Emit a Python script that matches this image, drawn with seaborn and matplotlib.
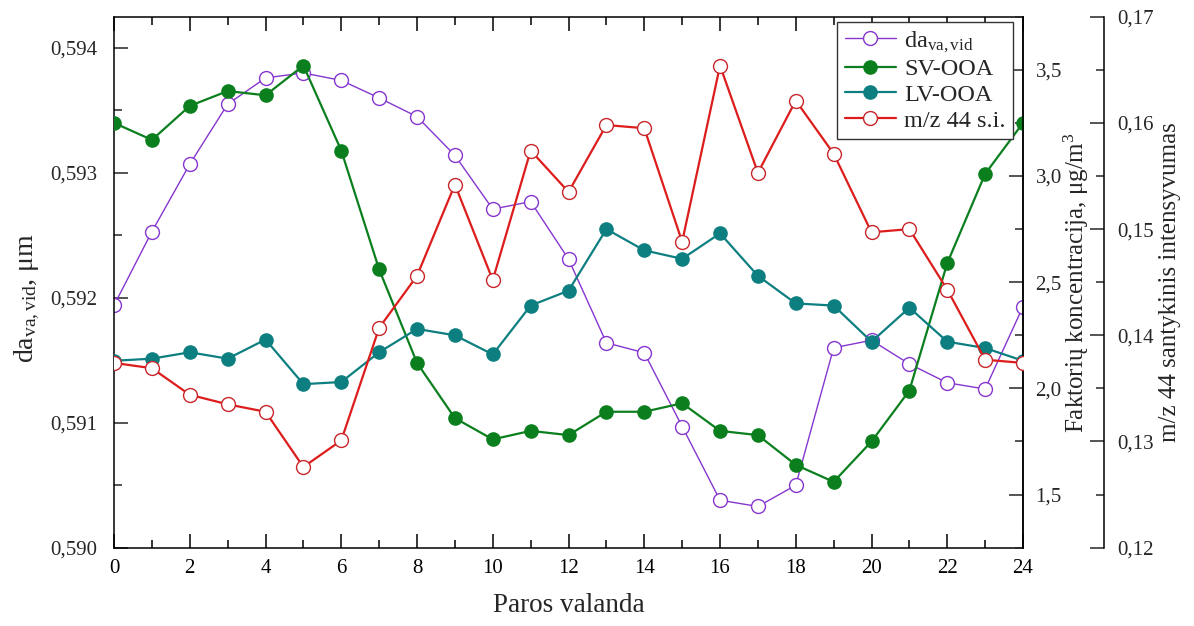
import matplotlib
matplotlib.use("Agg")
import matplotlib.pyplot as plt
from matplotlib.ticker import MultipleLocator, FuncFormatter
import pandas as pd
import seaborn as sns

# Hour of day
hours = list(range(25))

# Mean vacuum aerodynamic diameter, µm (left axis)
da_va_vid = [0.59194, 0.59253, 0.59307, 0.59355, 0.59376, 0.59380, 0.59374,
             0.59360, 0.59345, 0.59314, 0.59271, 0.59277, 0.59231, 0.59164,
             0.59156, 0.59097, 0.59038, 0.59033, 0.59050, 0.59160, 0.59166,
             0.59147, 0.59132, 0.59127, 0.59193]

# PMF factor concentrations, µg/m3 (first right axis)
sv_ooa = [3.25, 3.17, 3.33, 3.40, 3.38, 3.52, 3.12, 2.56, 2.12, 1.86, 1.76,
          1.80, 1.78, 1.89, 1.89, 1.93, 1.80, 1.78, 1.64, 1.56, 1.75, 1.99,
          2.59, 3.01, 3.25]
lv_ooa = [2.13, 2.14, 2.17, 2.14, 2.23, 2.02, 2.03, 2.17, 2.28, 2.25, 2.16,
          2.39, 2.46, 2.75, 2.65, 2.61, 2.73, 2.53, 2.40, 2.39, 2.22, 2.38,
          2.22, 2.19, 2.13]

# m/z 44 relative intensity (second right axis)
mz44 = [0.1374, 0.1369, 0.1344, 0.1335, 0.1328, 0.1276, 0.1301, 0.1407,
        0.1456, 0.1542, 0.1452, 0.1574, 0.1535, 0.1598, 0.1595, 0.1488,
        0.1654, 0.1553, 0.1621, 0.1571, 0.1497, 0.1500, 0.1443, 0.1377,
        0.1374]

df = pd.DataFrame({"hour": hours, "da": da_va_vid, "sv": sv_ooa,
                   "lv": lv_ooa, "mz": mz44})

sns.set_style("ticks")
plt.rcParams["font.family"] = ["Liberation Serif", "DejaVu Serif"]
plt.rcParams["mathtext.fontset"] = "custom"
plt.rcParams["mathtext.rm"] = "Liberation Serif"
plt.rcParams["mathtext.it"] = "Liberation Serif:italic"
plt.rcParams["axes.linewidth"] = 1.1
plt.rcParams["axes.edgecolor"] = "black"

PURPLE = "#8636CF"
GREEN = "#0B7F1E"
TEAL = "#0E7F80"
RED = "#DD1C1C"

fig = plt.figure(figsize=(11.94, 6.26), dpi=100)
ax = fig.add_axes([0.0955, 0.1251, 0.7613, 0.8482])
ax2 = ax.twinx()
ax3 = ax.twinx()

sns.lineplot(data=df, x="hour", y="da", ax=ax, color=PURPLE, linewidth=1.0,
             marker="o", markersize=10, markerfacecolor="white",
             markeredgecolor=PURPLE, markeredgewidth=1.0,
             label="da$_{\\mathregular{va,vid}}$", legend=False)
sns.lineplot(data=df, x="hour", y="sv", ax=ax2, color=GREEN, linewidth=1.6,
             marker="o", markersize=9.5, markerfacecolor=GREEN,
             markeredgecolor=GREEN, markeredgewidth=1.0,
             label="SV-OOA", legend=False)
sns.lineplot(data=df, x="hour", y="lv", ax=ax2, color=TEAL, linewidth=1.6,
             marker="o", markersize=9.5, markerfacecolor=TEAL,
             markeredgecolor=TEAL, markeredgewidth=1.0,
             label="LV-OOA", legend=False)
sns.lineplot(data=df, x="hour", y="mz", ax=ax3, color=RED, linewidth=1.6,
             marker="o", markersize=10, markerfacecolor="white",
             markeredgecolor="#C8262B", markeredgewidth=1.0,
             label="m/z 44 s.i.", legend=False)

# Axis ranges
ax.set_xlim(0, 24)
ax.set_ylim(0.590, 0.59425)
ax2.set_ylim(1.25, 3.75)
ax3.set_ylim(0.12, 0.17)


def comma(decimals):
    return FuncFormatter(lambda v, p: f"{v:.{decimals}f}".replace(".", ","))


ax.xaxis.set_major_locator(MultipleLocator(2))
ax.xaxis.set_minor_locator(MultipleLocator(1))
ax.xaxis.set_major_formatter(FuncFormatter(lambda v, p: f"{v:.0f}"))
ax.yaxis.set_major_locator(MultipleLocator(0.001))
ax.yaxis.set_minor_locator(MultipleLocator(0.0005))
ax.yaxis.set_major_formatter(comma(3))
ax2.yaxis.set_major_locator(MultipleLocator(0.5))
ax2.yaxis.set_minor_locator(MultipleLocator(0.25))
ax2.yaxis.set_major_formatter(comma(1))
ax3.yaxis.set_major_locator(MultipleLocator(0.01))
ax3.yaxis.set_minor_locator(MultipleLocator(0.005))
ax3.yaxis.set_major_formatter(comma(2))

TICK_FS = 15
ax.tick_params(axis="x", which="both", direction="in", top=True, bottom=True,
               labelsize=TICK_FS, pad=8.5, width=1.1, colors="black")
ax.tick_params(axis="x", which="major", length=10)
ax.tick_params(axis="x", which="minor", length=6)
ax.tick_params(axis="y", which="both", direction="in", left=True, right=False,
               labelsize=TICK_FS, pad=12, width=1.1)
ax.tick_params(axis="y", which="major", length=10)
ax.tick_params(axis="y", which="minor", length=6)
for a in (ax2, ax3):
    a.tick_params(axis="y", which="both", direction="in", right=True,
                  left=False, labelsize=TICK_FS, pad=9, width=1.1)
    a.tick_params(axis="y", which="major", length=10)
    a.tick_params(axis="y", which="minor", length=6)

ax3.spines["right"].set_position(("axes", 1.0894))
for s in ("top", "bottom", "left"):
    ax3.spines[s].set_visible(False)
    ax2.spines[s].set_visible(False)

# Axis titles
ax.set_xlabel("Paros valanda", fontsize=19.5)
ax.xaxis.set_label_coords(0.5, -0.086)
ax.set_ylabel("da$_{\\mathregular{va,vid}}$, μm", fontsize=20)
ax.yaxis.set_label_coords(-0.079, 0.47)
ax2.set_ylabel("Faktorių koncentracija, μg/m$^{\\mathregular{3}}$", fontsize=18)
ax2.yaxis.set_label_coords(1.0425, 0.5)
ax3.set_ylabel("m/z 44 santykinis intensyvumas", fontsize=18)
ax3.yaxis.set_label_coords(1.1496, 0.5)

handles, labels = [], []
for a in (ax, ax2, ax3):
    h, l = a.get_legend_handles_labels()
    handles += h
    labels += l
leg = ax3.legend(handles, labels, loc="upper right",
                 bbox_to_anchor=(0.989, 0.990), borderaxespad=0,
                 fontsize=17.5, frameon=True, fancybox=False, framealpha=1,
                 edgecolor="#333333", handlelength=2.1, handletextpad=0.35,
                 labelspacing=0.15, borderpad=0.3)
leg.get_frame().set_linewidth(1.0)

fig.savefig("out.png", dpi=100, facecolor="white")
